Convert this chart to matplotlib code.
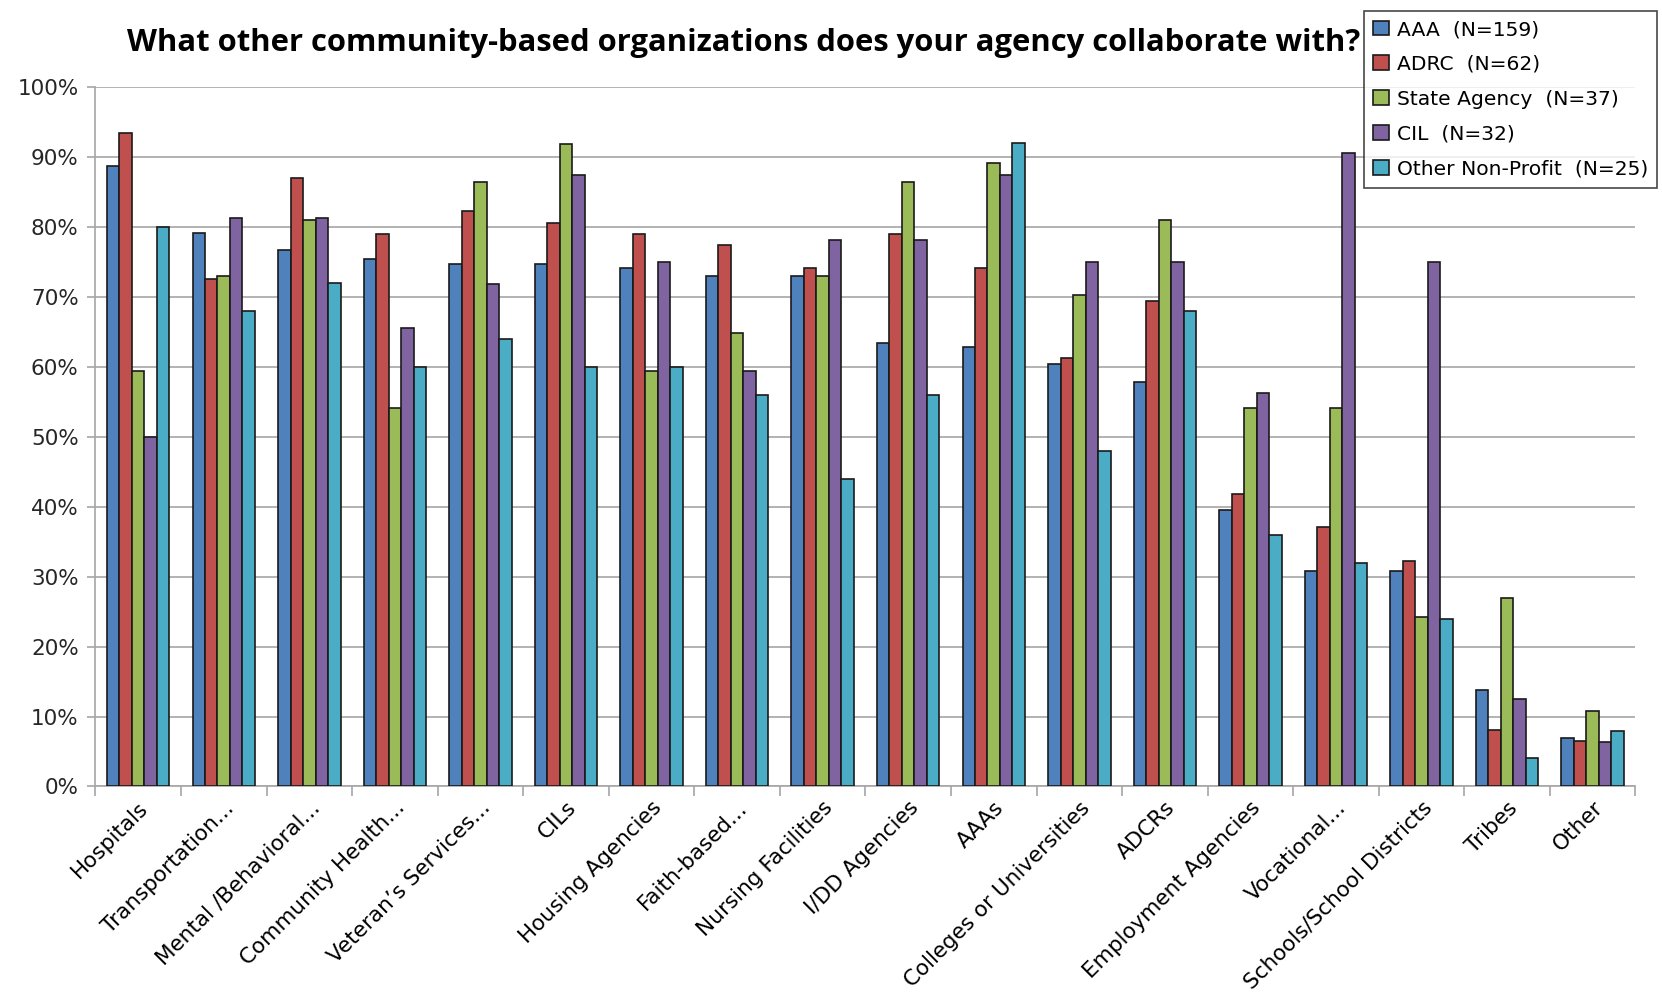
import numpy as np
import matplotlib.pyplot as plt
from matplotlib.ticker import FuncFormatter, FixedLocator

categories = ['Hospitals', 'Transportation...', 'Mental /Behavioral...', 'Community Health...',
              'Veteran\u2019s Services...', 'CILs', 'Housing Agencies', 'Faith-based...',
              'Nursing Facilities', 'I/DD Agencies', 'AAAs', 'Colleges or Universities',
              'ADCRs', 'Employment Agencies', 'Vocational...', 'Schools/School Districts',
              'Tribes', 'Other']

aaa = [88.7, 79.2, 76.7, 75.5, 74.8, 74.8, 74.2, 73.0, 73.0, 63.5, 62.9, 60.4, 57.9, 39.6, 30.8, 30.8, 13.8, 6.9]
adrc = [93.5, 72.6, 87.1, 79.0, 82.3, 80.6, 79.0, 77.4, 74.2, 79.0, 74.2, 61.3, 69.4, 41.9, 37.1, 32.3, 8.1, 6.5]
state = [59.5, 73.0, 81.1, 54.1, 86.5, 91.9, 59.5, 64.9, 73.0, 86.5, 89.2, 70.3, 81.1, 54.1, 54.1, 24.3, 27.0, 10.8]
cil = [50.0, 81.3, 81.3, 65.6, 71.9, 87.5, 75.0, 59.4, 78.1, 78.1, 87.5, 75.0, 75.0, 56.3, 90.6, 75.0, 12.5, 6.3]
other_np = [80.0, 68.0, 72.0, 60.0, 64.0, 60.0, 60.0, 56.0, 44.0, 56.0, 92.0, 48.0, 68.0, 36.0, 32.0, 24.0, 4.0, 8.0]

series_labels = ['AAA  (N=159)', 'ADRC  (N=62)', 'State Agency  (N=37)', 'CIL  (N=32)',
                 'Other Non-Profit  (N=25)']
colors = ['#4F81BD', '#C0504D', '#9BBB59', '#8064A2', '#4BACC6']

fig = plt.figure(figsize=(16.62, 9.93), dpi=100)
ax = fig.add_axes([0.0574, 0.208, 0.9266, 0.704])

x = np.arange(len(categories))
w = 0.146
for i, (vals, lab, col) in enumerate(zip([aaa, adrc, state, cil, other_np], series_labels, colors)):
    ax.bar(x + (i - 2) * w, vals, width=w, color=col, edgecolor='#1a1a1a', linewidth=1.2,
           label=lab, zorder=3)

ax.set_xlim(-0.5, len(categories) - 0.5)
ax.set_ylim(0, 100)
ax.yaxis.set_major_locator(FixedLocator(np.arange(0, 101, 10)))
ax.yaxis.set_major_formatter(FuncFormatter(lambda v, p: '%d%%' % v))
ax.grid(axis='y', color='#A6A6A6', linewidth=1.2, zorder=0)

for s in ['top', 'right']:
    ax.spines[s].set_visible(False)
for s in ['left', 'bottom']:
    ax.spines[s].set_color('#A6A6A6')
    ax.spines[s].set_linewidth(1.2)

ax.set_xticks(x)
ax.set_xticklabels(categories, rotation=45, ha='right', rotation_mode='anchor', fontsize=15.5)
ax.tick_params(axis='x', length=0, pad=8)
ax.set_xticks(np.arange(-0.5, len(categories), 1), minor=True)
ax.tick_params(axis='x', which='minor', length=7, color='#A6A6A6', width=1.2)
ax.tick_params(axis='y', labelsize=15.5, length=6, color='#A6A6A6', width=1.2, pad=6)
for t in ax.get_yticklabels():
    t.set_color('#262626')

fig.text(0.4474, 0.957, 'What other community-based organizations does your agency collaborate with?',
         ha='center', va='center', fontsize=22.3, fontweight='bold', family='Open Sans')

leg = fig.legend(loc='upper right', bbox_to_anchor=(0.9995, 0.993), fontsize=14.6,
                 frameon=True, fancybox=False, edgecolor='#1a1a1a', handlelength=0.75,
                 handleheight=0.75, handletextpad=0.4, labelspacing=0.78, borderpad=0.45,
                 borderaxespad=0.2)
leg.get_frame().set_linewidth(1.2)

fig.savefig('out.png', dpi=100)
